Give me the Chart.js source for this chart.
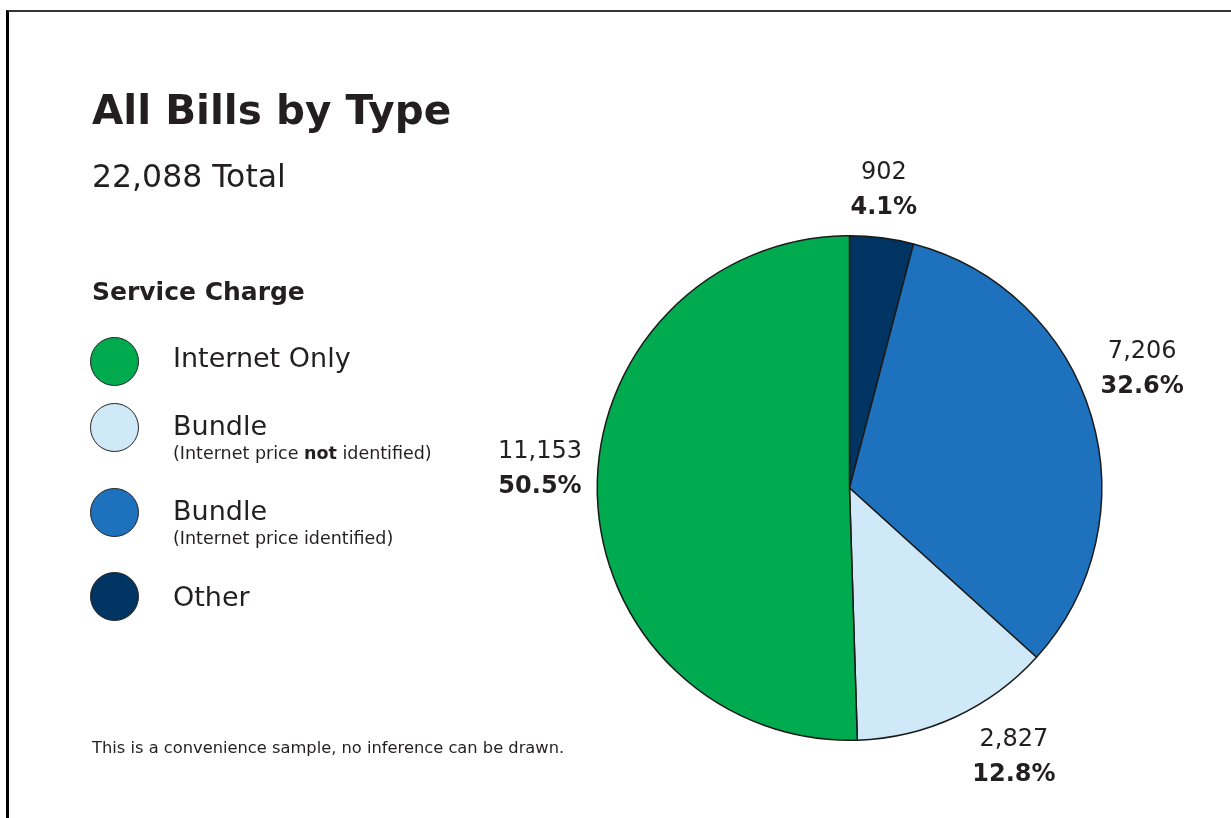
<!DOCTYPE html>
<html>
<head>
<meta charset="utf-8">
<script src="https://cdn.jsdelivr.net/npm/chart.js@4/dist/chart.umd.min.js"></script>
<style>
  html, body { margin: 0; padding: 0; background: #fff; }
  body { width: 1231px; height: 818px; position: relative; overflow: hidden; font-family: "DejaVu Sans", sans-serif; color: #231f20; }
  #frame { position: absolute; left: 6px; top: 10px; width: 1240px; height: 820px; border-top: 2px solid #333; border-left: 3px solid #000; }
  #chartBox { position: absolute; left: 0; top: 0; width: 1231px; height: 818px; }
  #title { position: absolute; left: 92px; top: 86px; font-size: 40.5px; font-weight: 700; }
  #total { position: absolute; left: 92px; top: 158px; font-size: 31.5px; }
  #legendTitle { position: absolute; left: 92px; top: 277px; font-size: 25px; font-weight: 700; }
  #legend { position: absolute; left: 90px; top: 337px; }
  .item { position: absolute; left: 0; width: 400px; }
  .dot { position: absolute; left: 0; top: 0; width: 47px; height: 47px; border-radius: 50%; border: 1.5px solid #222; }
  .main { position: absolute; left: 83px; font-size: 27px; white-space: nowrap; }
  .sub { position: absolute; left: 83px; font-size: 17.5px; white-space: nowrap; }
  #note { position: absolute; left: 92px; top: 738px; font-size: 16.3px; }
</style>
</head>
<body>
<div id="frame"></div>
<div id="chartBox"><canvas id="pieChart"></canvas></div>
<div id="title">All Bills by Type</div>
<div id="total"></div>
<div id="legendTitle">Service Charge</div>
<div id="legend"></div>
<div id="note">This is a convenience sample, no inference can be drawn.</div>
<script>
// pie order, clockwise from 12 o'clock
const categories = ['Other', 'Bundle', 'Bundle', 'Internet Only'];
const subLabels = ['', '(Internet price identified)', '(Internet price <b>not</b> identified)', ''];
const values = [902, 7206, 2827, 11153];
const colors = ['#003463', '#1e72bd', '#cfe9f8', '#00ab4f'];
const legendOrder = [3, 2, 1, 0];
// small angle nudge (degrees) for the outside value labels
const labelNudge = [-0.8, -5.8, -6.7, 4.6];

const total = values.reduce((a, b) => a + b, 0);
document.getElementById('total').textContent = total.toLocaleString('en-US') + ' Total';

// html legend
const legend = document.getElementById('legend');
const legendY = [0, 66, 151, 235];
const mainTop = [5, 7, 7, 9];
legendOrder.forEach((idx, k) => {
  const item = document.createElement('div');
  item.className = 'item';
  item.style.top = legendY[k] + 'px';
  let html = '<div class="dot" style="background:' + colors[idx] + '"></div>';
  html += '<div class="main" style="top:' + mainTop[k] + 'px">' + categories[idx] + '</div>';
  if (subLabels[idx]) {
    html += '<div class="sub" style="top:40px">' + subLabels[idx] + '</div>';
  }
  item.innerHTML = html;
  legend.appendChild(item);
});

const outsideLabels = {
  id: 'outsideLabels',
  afterDatasetsDraw(chart) {
    const ctx = chart.ctx;
    const meta = chart.getDatasetMeta(0);
    ctx.save();
    ctx.textAlign = 'center';
    ctx.textBaseline = 'middle';
    ctx.fillStyle = '#231f20';
    meta.data.forEach((arc, i) => {
      const p = arc.getProps(['x', 'y', 'startAngle', 'endAngle', 'outerRadius'], true);
      const mid = (p.startAngle + p.endAngle) / 2 + labelNudge[i] * Math.PI / 180;
      const v = values[i];
      const line1 = v.toLocaleString('en-US');
      const line2 = (v / total * 100).toFixed(1) + '%';
      ctx.font = '400 24px "DejaVu Sans"';
      const w1 = ctx.measureText(line1).width;
      ctx.font = '700 24px "DejaVu Sans"';
      const w2 = ctx.measureText(line2).width;
      const w = Math.max(w1, w2), h = 62;
      const ux = Math.cos(mid), uy = Math.sin(mid);
      const d = p.outerRadius + 14 + Math.abs(ux) * w / 2 + Math.abs(uy) * h / 2;
      const cx = p.x + ux * d, cy = p.y + uy * d;
      ctx.font = '400 24px "DejaVu Sans"';
      ctx.fillText(line1, cx, cy - 16);
      ctx.font = '700 24px "DejaVu Sans"';
      ctx.fillText(line2, cx, cy + 19);
    });
    ctx.restore();
  }
};

new Chart(document.getElementById('pieChart'), {
  type: 'pie',
  data: {
    labels: categories,
    datasets: [{
      data: values,
      backgroundColor: colors,
      borderColor: '#1a1a1a',
      borderWidth: 1.5
    }]
  },
  options: {
    responsive: true,
    maintainAspectRatio: false,
    animation: false,
    layout: { padding: { left: 596, right: 128, top: 235, bottom: 77 } },
    plugins: {
      legend: { display: false },
      tooltip: { enabled: false }
    }
  },
  plugins: [outsideLabels]
});
</script>
</body>
</html>
